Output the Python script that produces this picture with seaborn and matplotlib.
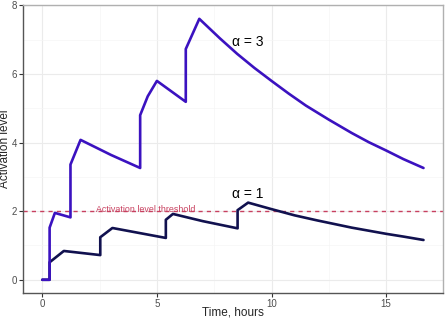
import matplotlib
matplotlib.use("Agg")
import matplotlib.pyplot as plt
import seaborn as sns
import pandas as pd
from matplotlib.ticker import MultipleLocator

# alpha = 3 curve
t_a3 = [0, 0.32, 0.32, 0.55, 1.23, 1.23, 1.67, 3.0, 4.27, 4.27, 4.6, 5.0, 6.26, 6.26,
        6.85, 7.75, 8.5, 9.25, 10, 10.75, 11.5, 12.5, 13.5, 14.25, 15, 15.75, 16.63]
act_a3 = [0, 0, 1.52, 1.95, 1.82, 3.36, 4.08, 3.64, 3.26, 4.80, 5.35, 5.80, 5.19, 6.73,
          7.61, 7.04, 6.59, 6.18, 5.80, 5.43, 5.08, 4.67, 4.28, 4.01, 3.77, 3.52, 3.26]

# alpha = 1 curve
t_a1 = [0, 0.32, 0.32, 0.94, 2.53, 2.53, 3.06, 5.39, 5.39, 5.7, 7.0, 8.52, 8.52, 8.98,
        10, 11, 12, 12.5, 13.5, 14.25, 15, 15.75, 16.63]
act_a1 = [0, 0, 0.51, 0.84, 0.72, 1.24, 1.51, 1.22, 1.75, 1.92, 1.71, 1.50, 2.03, 2.25,
          2.06, 1.88, 1.73, 1.66, 1.52, 1.43, 1.34, 1.26, 1.16]

threshold = 2
labels = ["α = 3", "α = 1"]

df3 = pd.DataFrame({"time": t_a3, "act": act_a3})
df1 = pd.DataFrame({"time": t_a1, "act": act_a1})

sns.set_theme(style="whitegrid")
plt.rcParams["font.family"] = ["Liberation Sans", "DejaVu Sans"]

fig = plt.figure(figsize=(4.47, 3.2), dpi=100)
ax = fig.add_axes([0.052, 0.085, 0.938, 0.899])

ax.axhline(threshold, color="#c8405f", linestyle=(0, (3, 3)), linewidth=1.0, zorder=1)
ax.text(4.49, threshold + 0.06, "Activation level threshold", color="#c8405f",
        fontsize=6.4, ha="center", va="center", zorder=2)

sns.lineplot(data=df1, x="time", y="act", sort=False, estimator=None, ax=ax,
             color="#11114f", linewidth=1.9, zorder=3)
sns.lineplot(data=df3, x="time", y="act", sort=False, estimator=None, ax=ax,
             color="#3b12c0", linewidth=1.9, zorder=4)

ax.text(8.98, 6.93, labels[0], fontsize=10, ha="center", va="center", color="black")
ax.text(8.98, 2.5, labels[1], fontsize=10, ha="center", va="center", color="black")

ax.set_xlim(-0.83, 17.46)
ax.set_ylim(-0.38, 8.01)
ax.xaxis.set_major_locator(MultipleLocator(5))
ax.xaxis.set_minor_locator(MultipleLocator(2.5))
ax.yaxis.set_major_locator(MultipleLocator(2))
ax.yaxis.set_minor_locator(MultipleLocator(1))

ax.grid(which="major", color="#ebebeb", linewidth=0.8)
ax.grid(which="minor", color="#f5f5f5", linewidth=0.5)
ax.set_axisbelow(True)

for side in ["top", "right"]:
    ax.spines[side].set_color("#b0b0b0")
    ax.spines[side].set_linewidth(1.0)
for side in ["left", "bottom"]:
    ax.spines[side].set_color("#555555")
    ax.spines[side].set_linewidth(1.0)

ax.tick_params(axis="both", which="major", length=3, width=0.8, color="#333333",
               labelsize=7, labelcolor="#4d4d4d", pad=1.5, left=True, bottom=True)
ax.tick_params(axis="both", which="minor", length=0)

ax.set_xlabel("Time, hours", fontsize=8.5)
ax.set_ylabel("Activation level", fontsize=8.5)
ax.xaxis.set_label_coords(0.5, -0.048)
ax.yaxis.set_label_coords(-0.029, 0.5)

fig.savefig("out.png", dpi=100)
